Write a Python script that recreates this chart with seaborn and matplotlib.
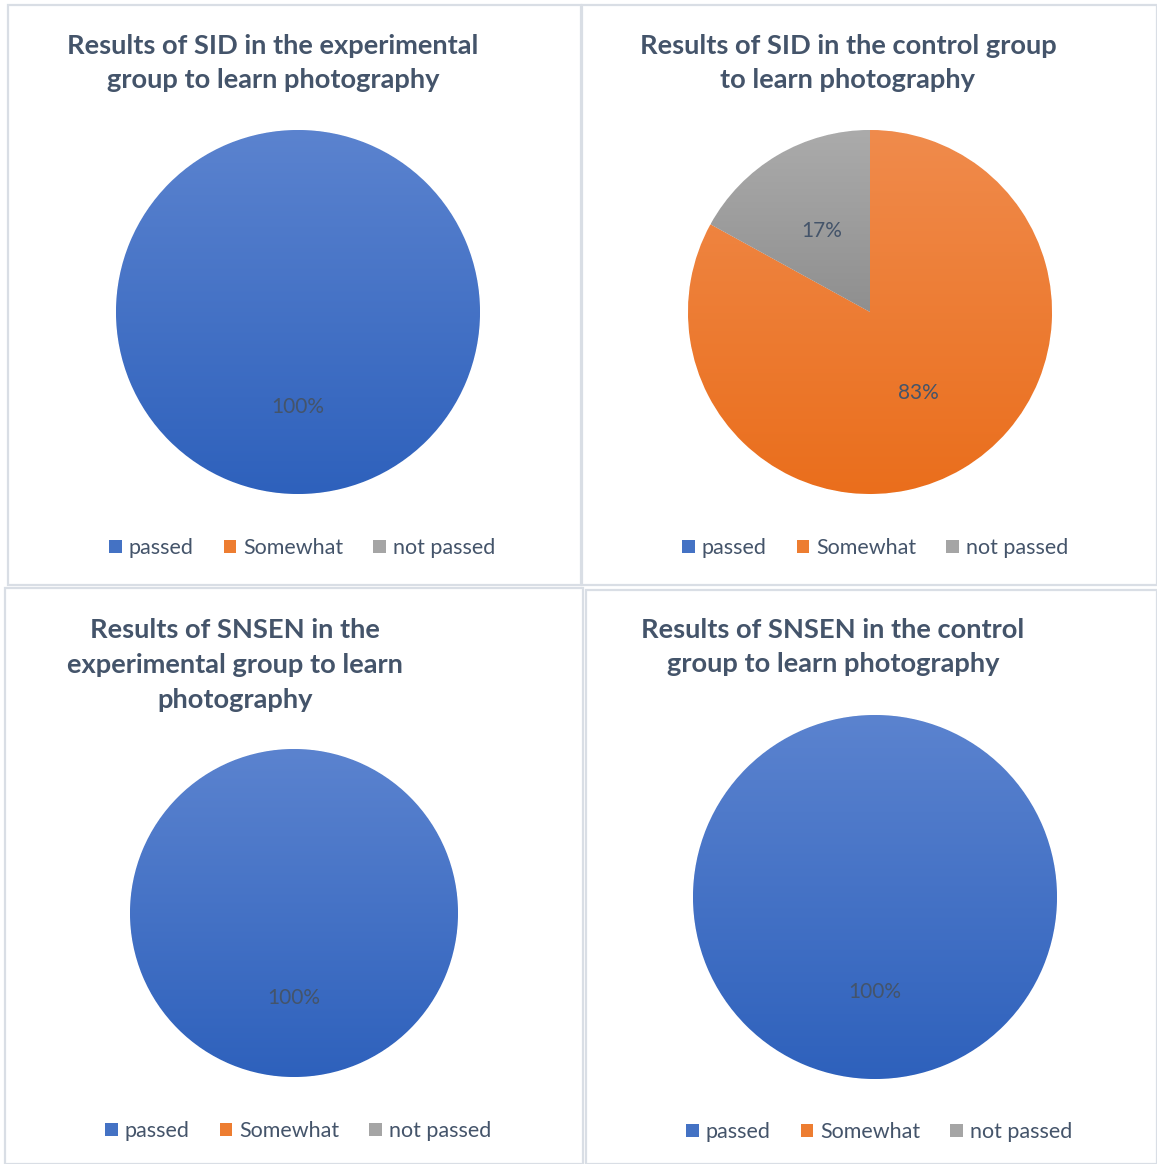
import numpy as np
import matplotlib
matplotlib.use("Agg")
import matplotlib.pyplot as plt
from matplotlib.patches import Patch, Rectangle
from matplotlib.colors import to_rgb
import seaborn as sns

# ---- data -------------------------------------------------------------
categories = ["passed", "Somewhat", "not passed"]
sid_experimental = [100, 0, 0]
sid_control = [0, 83, 17]
snsen_experimental = [100, 0, 0]
snsen_control = [100, 0, 0]

titles = [
    "Results of SID in the experimental\ngroup to learn photography",
    "Results of SID in the control group\nto learn photography",
    "Results of SNSEN in the\nexperimental group to learn\nphotography",
    "Results of SNSEN in the control\ngroup to learn photography",
]

# ---- style ------------------------------------------------------------
sns.set_theme(style="white")
plt.rcParams["font.family"] = ["Lato", "DejaVu Sans"]

TEXT = "#44546A"
BORDER = "#D9DEE5"
base_colors = ["#4472C4", "#ED7D31", "#A5A5A5"]
grad_top = ["#5B83CF", "#F08B4C", "#ABABAB"]
grad_bottom = ["#2E61BC", "#EA6E1C", "#8F8F8F"]

W, H = 1157, 1164
fig = plt.figure(figsize=(W / 100, H / 100), dpi=100)


def fx(px):
    return px / W


def fy(py):
    return 1 - py / H


# panel frames (left, top, right, bottom) in pixels
frames = [(8, 5, 581, 585), (582, 5, 1157, 585),
          (5, 588, 583, 1164), (586, 590, 1157, 1164)]
for l, t, r, b in frames:
    fig.patches.append(Rectangle((fx(l), fy(b)), fx(r - l), fy(t) - fy(b),
                                 transform=fig.transFigure, fill=False,
                                 edgecolor=BORDER, lw=1.6, zorder=0))

# pie centres and radii in pixels
pies = [(298, 312, 182), (870, 312, 182), (294, 913, 164), (875, 897, 182)]
title_pos = [(273, 63), (848, 63), (235, 665), (833, 647)]
legend_y = [548, 548, 1131, 1132]
legend_x = [302, 875, 298, 879]
datasets = [sid_experimental, sid_control, snsen_experimental, snsen_control]


def gradient_fill(ax, wedge, top, bottom):
    verts = wedge.get_path().vertices
    y0, y1 = verts[:, 1].min(), verts[:, 1].max()
    x0, x1 = verts[:, 0].min(), verts[:, 0].max()
    t = np.linspace(0, 1, 256)[:, None]
    c0, c1 = np.array(to_rgb(top)), np.array(to_rgb(bottom))
    img = (c0 * (1 - t) + c1 * t)[:, None, :]
    im = ax.imshow(img, extent=(x0, x1, y0, y1), origin="upper",
                   aspect="auto", zorder=1.5, interpolation="bilinear")
    im.set_clip_path(wedge)


for values, (cx, cy, r), title, (tx, ty), ly, lx in zip(
        datasets, pies, titles, title_pos, legend_y, legend_x):
    ax = fig.add_axes([fx(cx - r), fy(cy + r), fx(2 * r), fy(cy - r) - fy(cy + r)])
    wedges, _, autotexts = ax.pie(
        values, colors=base_colors, startangle=90, counterclock=False,
        autopct=lambda p: f"{p:.0f}%" if p > 0 else "", pctdistance=0.52,
        wedgeprops=dict(edgecolor="white", linewidth=0.6),
        textprops=dict(color=TEXT, fontsize=15))
    for w, v, top, bot in zip(wedges, values, grad_top, grad_bottom):
        if v == 0:
            w.set_visible(False)
            continue
        gradient_fill(ax, w, top, bot)
    for at in autotexts:
        at.set_zorder(5)
    ax.set_xlim(-1, 1)
    ax.set_ylim(-1, 1)
    ax.set_aspect("auto")
    ax.axis("off")

    fig.text(fx(tx), fy(ty), title, ha="center", va="center", color=TEXT,
             fontsize=19.6, fontweight="bold", linespacing=1.55)

    handles = [Patch(facecolor=c, edgecolor="none") for c in base_colors]
    fig.legend(handles, categories, loc="center", bbox_to_anchor=(fx(lx), fy(ly)),
               ncol=3, frameon=False, fontsize=15.5, labelcolor=TEXT,
               handlelength=0.6, handleheight=0.6, handletextpad=0.3,
               columnspacing=1.4)

fig.savefig("out.png", dpi=100)
